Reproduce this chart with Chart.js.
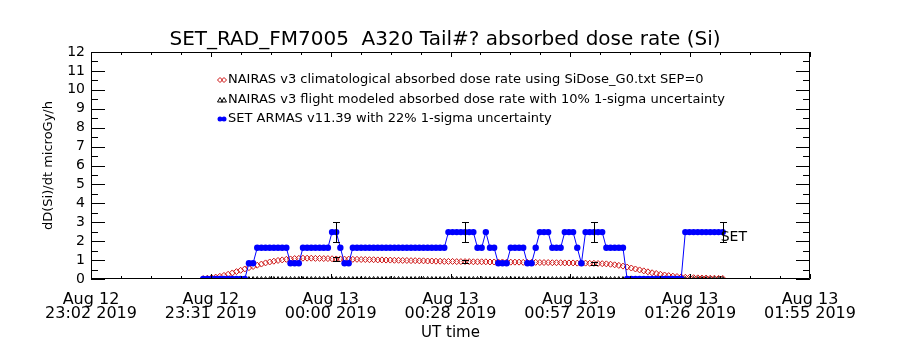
<!DOCTYPE html>
<html>
<head>
<meta charset="utf-8">
<script src="https://cdn.jsdelivr.net/npm/chart.js@4.4.0/dist/chart.umd.min.js"></script>
<style>
  html, body { margin: 0; padding: 0; background: #fff; }
  #wrap { width: 900px; height: 350px; }
</style>
</head>
<body>
<div id="wrap"><canvas id="c" width="900" height="350"></canvas></div>
<script>
// x = minutes after Aug 12 23:02 UT, one sample per minute from startMinute on
const startMinute = 27;

// SET ARMAS measured dose rate (blue)
const armasDose = [
  0, 0, 0, 0, 0, 0, 0, 0, 0, 0, 0,
  0.83, 0.83,
  1.65, 1.65, 1.65, 1.65, 1.65, 1.65, 1.65, 1.65,
  0.83, 0.83, 0.83,
  1.65, 1.65, 1.65, 1.65, 1.65, 1.65, 1.65,
  2.48, 2.48,
  1.65,
  0.83, 0.83,
  1.65, 1.65, 1.65, 1.65, 1.65, 1.65, 1.65, 1.65, 1.65, 1.65, 1.65, 1.65,
  1.65, 1.65, 1.65, 1.65, 1.65, 1.65, 1.65, 1.65, 1.65, 1.65, 1.65,
  2.48, 2.48, 2.48, 2.48, 2.48, 2.48, 2.48,
  1.65, 1.65,
  2.48,
  1.65, 1.65,
  0.83, 0.83, 0.83,
  1.65, 1.65, 1.65, 1.65,
  0.83, 0.83,
  1.65,
  2.48, 2.48, 2.48,
  1.65, 1.65, 1.65,
  2.48, 2.48, 2.48,
  1.65,
  0.83,
  2.48, 2.48, 2.48, 2.48, 2.48,
  1.65, 1.65, 1.65, 1.65, 1.65,
  0, 0, 0, 0, 0, 0, 0, 0, 0, 0, 0, 0, 0, 0,
  2.48, 2.48, 2.48, 2.48, 2.48, 2.48, 2.48, 2.48, 2.48, 2.48
];

// NAIRAS v3 climatological dose rate (red diamonds)
const nairasClim = [
  0.02, 0.04, 0.07, 0.10, 0.14, 0.19, 0.25, 0.32, 0.39, 0.46, 0.53, 0.60, 0.66,
  0.73, 0.79, 0.85, 0.90, 0.94, 0.98, 1.01, 1.04, 1.06, 1.08, 1.09, 1.10, 1.10,
  1.10, 1.09, 1.09, 1.08, 1.08, 1.07,
  1.06, 1.06, 1.05, 1.05, 1.04, 1.04, 1.03, 1.03, 1.02, 1.02, 1.01, 1.01,
  1.00, 1.00, 0.99, 0.99, 0.98, 0.98, 0.97, 0.97, 0.96, 0.96, 0.95, 0.95, 0.94, 0.94, 0.93,
  0.93, 0.93, 0.92, 0.92, 0.92, 0.92, 0.91, 0.91, 0.91, 0.91, 0.90, 0.90, 0.90,
  0.90, 0.89, 0.89, 0.89, 0.89, 0.88, 0.88, 0.88, 0.88, 0.87, 0.87, 0.87,
  0.86, 0.86, 0.86, 0.85, 0.85, 0.85, 0.84, 0.84, 0.84, 0.83,
  0.83, 0.82, 0.81, 0.80, 0.78, 0.75, 0.72, 0.68, 0.63, 0.58, 0.53, 0.48, 0.43,
  0.38, 0.33, 0.29, 0.25, 0.21, 0.18, 0.15, 0.13, 0.11, 0.09, 0.08, 0.07, 0.06,
  0.05, 0.05, 0.04, 0.04, 0.03, 0.03
];

// NAIRAS v3 flight modeled dose rate (black triangles, sits on the axis)
const nairasFlight = [
  0, 0, 0, 0, 0, 0, 0, 0, 0, 0, 0, 0, 0, 0, 0, 0, 0, 0, 0, 0, 0,
  0, 0, 0, 0, 0, 0, 0, 0, 0, 0, 0, 0, 0, 0, 0, 0, 0, 0, 0, 0, 0,
  0, 0, 0, 0, 0, 0, 0, 0, 0, 0, 0, 0, 0, 0, 0, 0, 0, 0, 0, 0, 0,
  0, 0, 0, 0, 0, 0, 0, 0, 0, 0, 0, 0, 0, 0, 0, 0, 0, 0, 0, 0, 0,
  0, 0, 0, 0, 0, 0, 0, 0, 0, 0, 0, 0, 0, 0, 0, 0, 0, 0, 0, 0, 0,
  0, 0, 0, 0, 0, 0, 0, 0, 0, 0, 0, 0, 0, 0, 0, 0, 0, 0, 0, 0, 0
];

// error bars: minute, relative 1-sigma
const errMinutes = [59, 90, 121, 152];
const armasSigma = 0.22;
const modelSigma = 0.10;

const xTickMinutes = [0, 28.83, 57.67, 86.5, 115.33, 144.17, 173];
const xTickLabels = [
  ["Aug 12", "23:02 2019"],
  ["Aug 12", "23:31 2019"],
  ["Aug 13", "00:00 2019"],
  ["Aug 13", "00:28 2019"],
  ["Aug 13", "00:57 2019"],
  ["Aug 13", "01:26 2019"],
  ["Aug 13", "01:55 2019"]
];

const legendLabels = [
  "NAIRAS v3 climatological absorbed dose rate using SiDose_G0.txt SEP=0",
  "NAIRAS v3 flight modeled absorbed dose rate with 10% 1-sigma uncertainty",
  "SET ARMAS v11.39 with 22% 1-sigma uncertainty"
];

const FONT = "'DejaVu Sans', sans-serif";
const RED = "#cc1111";
const BLUE = "#0000ff";

const toPoints = (arr) => arr.map((v, i) => ({ x: startMinute + i, y: v }));

// IDL-style frame, inward ticks, error bars, legend and the SET tag
const idlPlugin = {
  id: "idl",
  afterDatasetsDraw(chart) {
    const { ctx, chartArea: a, scales: { x, y } } = chart;
    ctx.save();
    ctx.strokeStyle = "#000";
    ctx.fillStyle = "#000";
    ctx.lineWidth = 1;

    const bar = (t, v, s) => {
      const px = Math.round(x.getPixelForValue(t)) + 0.5;
      const y0 = Math.round(y.getPixelForValue(v * (1 - s))) + 0.5;
      const y1 = Math.round(y.getPixelForValue(v * (1 + s))) + 0.5;
      ctx.beginPath();
      ctx.moveTo(px, y0); ctx.lineTo(px, y1);
      ctx.moveTo(px - 3.5, y0); ctx.lineTo(px + 3.5, y0);
      ctx.moveTo(px - 3.5, y1); ctx.lineTo(px + 3.5, y1);
      ctx.stroke();
    };
    errMinutes.forEach((t) => {
      const i = t - startMinute;
      bar(t, armasDose[i], armasSigma);
      bar(t, nairasClim[i], modelSigma);
    });

    // frame
    ctx.beginPath();
    ctx.rect(a.left + 0.5, a.top + 0.5, a.right - a.left - 1, a.bottom - a.top - 1);
    ctx.stroke();

    // y ticks, both sides
    ctx.beginPath();
    for (let v = 0; v <= 12; v += 0.5) {
      const py = Math.round(y.getPixelForValue(v)) + 0.5;
      const len = v % 1 === 0 ? 14 : 7;
      ctx.moveTo(a.left, py); ctx.lineTo(a.left + len, py);
      ctx.moveTo(a.right, py); ctx.lineTo(a.right - len, py);
    }
    // x ticks, top and bottom
    xTickMinutes.forEach((m, k) => {
      const px = Math.round(x.getPixelForValue(m)) + 0.5;
      ctx.moveTo(px, a.bottom); ctx.lineTo(px, a.bottom - 5);
      ctx.moveTo(px, a.top); ctx.lineTo(px, a.top + 5);
      if (k < xTickMinutes.length - 1) {
        const step = (xTickMinutes[k + 1] - m) / 4;
        for (let j = 1; j < 4; j++) {
          const qx = Math.round(x.getPixelForValue(m + j * step)) + 0.5;
          ctx.moveTo(qx, a.bottom); ctx.lineTo(qx, a.bottom - 3);
          ctx.moveTo(qx, a.top); ctx.lineTo(qx, a.top + 3);
        }
      }
    });
    ctx.stroke();

    // SET tag at the last sample
    const lastT = startMinute + armasDose.length - 1;
    ctx.font = "14px " + FONT;
    ctx.textBaseline = "middle";
    ctx.textAlign = "left";
    ctx.fillText("SET", x.getPixelForValue(lastT) - 2, y.getPixelForValue(armasDose[armasDose.length - 1]) + 5);

    // legend
    const lx = 228, rows = [80, 100, 119];
    ctx.font = "13px " + FONT;
    legendLabels.forEach((txt, r) => {
      const ly = rows[r];
      ctx.fillStyle = "#000";
      ctx.fillText(txt, lx, ly);
      [lx - 8, lx - 4].forEach((mx) => {
        ctx.beginPath();
        if (r === 0) {
          ctx.strokeStyle = RED;
          ctx.moveTo(mx, ly - 2.5); ctx.lineTo(mx + 2.5, ly); ctx.lineTo(mx, ly + 2.5); ctx.lineTo(mx - 2.5, ly); ctx.closePath();
          ctx.stroke();
        } else if (r === 1) {
          ctx.strokeStyle = "#000";
          ctx.moveTo(mx, ly - 2.5); ctx.lineTo(mx + 2.5, ly + 2); ctx.lineTo(mx - 2.5, ly + 2); ctx.closePath();
          ctx.stroke();
        } else {
          ctx.fillStyle = BLUE;
          ctx.arc(mx, ly, 2.5, 0, Math.PI * 2);
          ctx.fill();
        }
      });
    });
    ctx.restore();
  }
};

new Chart(document.getElementById("c"), {
  type: "line",
  data: {
    datasets: [
      {
        label: legendLabels[2],
        data: toPoints(armasDose),
        borderColor: BLUE,
        backgroundColor: BLUE,
        borderWidth: 1,
        pointRadius: 3.2,
        pointBorderWidth: 0,
        pointBackgroundColor: BLUE,
        tension: 0,
        clip: 0,
        order: 0
      },
      {
        label: legendLabels[0],
        data: toPoints(nairasClim),
        showLine: false,
        pointStyle: "rectRot",
        pointRadius: 3,
        pointBorderWidth: 1,
        pointBorderColor: RED,
        pointBackgroundColor: "rgba(0,0,0,0)",
        clip: 0,
        order: 1
      },
      {
        label: legendLabels[1],
        data: toPoints(nairasFlight),
        showLine: false,
        pointStyle: "triangle",
        pointRadius: 2.5,
        pointBorderWidth: 1,
        pointBorderColor: "#000",
        pointBackgroundColor: "rgba(0,0,0,0)",
        clip: 0,
        order: 2
      }
    ]
  },
  options: {
    responsive: false,
    animation: false,
    events: [],
    layout: { padding: { left: 0, right: 10, top: 0, bottom: 0 } },
    plugins: {
      legend: { display: false },
      tooltip: { enabled: false },
      title: {
        display: true,
        text: "SET_RAD_FM7005  A320 Tail#? absorbed dose rate (Si)",
        color: "#000",
        font: { family: FONT, size: 20, weight: "normal", lineHeight: 1.2 },
        padding: { top: 28, bottom: 0 }
      }
    },
    scales: {
      x: {
        type: "linear",
        min: 0,
        max: 173,
        grid: { display: false, drawTicks: false },
        border: { display: false },
        afterBuildTicks: (s) => { s.ticks = xTickMinutes.map((v) => ({ value: v })); },
        afterFit: (s) => { s.height = 71; },
        ticks: {
          autoSkip: false,
          maxRotation: 0,
          padding: 14,
          color: "#000",
          font: { family: FONT, size: 16, lineHeight: 0.85 },
          callback: (v, i) => xTickLabels[i]
        },
        title: {
          display: true,
          text: "UT time",
          color: "#000",
          font: { family: FONT, size: 15, lineHeight: 1.2 },
          padding: { top: 0, bottom: 8 }
        }
      },
      y: {
        min: 0,
        max: 12,
        grid: { display: false, drawTicks: false },
        border: { display: false },
        afterFit: (s) => { s.width = 91; },
        ticks: {
          stepSize: 1,
          autoSkip: false,
          padding: 6,
          color: "#000",
          font: { family: FONT, size: 14 }
        },
        title: {
          display: true,
          text: "dD(Si)/dt microGy/h",
          color: "#000",
          font: { family: FONT, size: 13, lineHeight: 1.2 },
          padding: { top: 41, bottom: 0 }
        }
      },
      // empty right axis that only reserves the right margin
      yRight: {
        position: "right",
        display: true,
        grid: { display: false, drawTicks: false },
        border: { display: false },
        ticks: { display: false },
        afterFit: (s) => { s.width = 80; }
      }
    }
  },
  plugins: [idlPlugin]
});
</script>
</body>
</html>
